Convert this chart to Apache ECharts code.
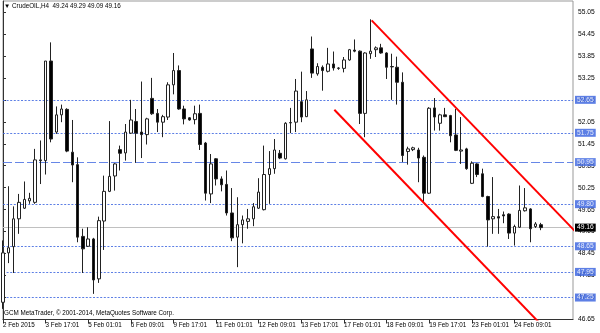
<!DOCTYPE html>
<html>
<head>
<meta charset="utf-8">
<script src="https://cdn.jsdelivr.net/npm/echarts/dist/echarts.min.js"></script>
<style>html,body{margin:0;padding:0;background:#fff}#c{width:600px;height:333px}</style>
</head>
<body>
<div id="c"></div>
<script>
// ---- data (CrudeOIL, H4) ----
const days = ['2 Feb','3 Feb','4 Feb','5 Feb','6 Feb','9 Feb','10 Feb','11 Feb','12 Feb','13 Feb','16 Feb','17 Feb','18 Feb','19 Feb','20 Feb','23 Feb','24 Feb','25 Feb','26 Feb'];
const hours = ['01:01','05:01','09:01','13:01','17:01','21:01'];
const xTickLabels = ['2 Feb 2015','3 Feb 17:01','5 Feb 01:01','6 Feb 09:01','9 Feb 17:01','11 Feb 01:01','12 Feb 09:01','13 Feb 17:01','17 Feb 01:01','18 Feb 09:01','19 Feb 17:01','23 Feb 01:01','24 Feb 09:01'];
const yTickLabels = [55.05,54.45,53.85,53.25,52.65,52.05,51.45,50.85,50.25,49.65,49.05,48.45,47.85,47.25,46.65];

const opens = [47.12,48.47,48.64,49.40,49.69,49.89,49.85,51.01,50.99,53.71,
  51.77,52.24,52.39,51.22,50.88,48.92,48.65,48.85,47.76,49.34,
  50.15,50.57,51.29,51.20,51.74,52.06,51.77,51.70,52.69,52.28,
  52.04,52.18,53.06,53.45,52.40,52.16,52.11,52.28,51.47,50.08,
  51.04,50.49,50.34,49.56,48.90,49.24,49.33,49.40,49.69,49.65,
  50.61,50.77,51.19,51.04,52.02,52.04,52.60,52.19,54.04,53.36,
  53.54,53.43,53.63,53.52,53.51,53.74,54.01,53.98,52.28,53.91,
  54.02,54.07,53.93,53.56,53.54,53.13,51.24,51.29,51.28,51.08,
  50.10,52.43,52.01,52.24,52.22,51.69,51.25,51.31,50.37,50.90,
  50.63,50.01,49.40,49.46,49.51,49.53,49.01,49.17,49.62,49.67,
  49.19,49.24];
const highs = [48.81,50.29,49.74,50.08,50.42,50.11,51.31,51.54,53.71,54.22,
  52.47,52.52,52.42,52.10,51.08,49.13,49.17,48.88,49.46,50.58,
  52.07,50.92,51.40,51.99,52.65,52.40,53.15,52.16,53.25,52.40,
  52.24,53.13,53.93,53.59,52.49,52.18,52.49,52.52,51.50,51.17,
  51.06,50.56,50.72,50.24,49.99,49.49,49.67,49.83,50.51,51.40,
  51.25,51.58,51.28,52.04,52.43,53.22,53.42,52.89,54.38,53.65,
  53.59,54.07,53.97,53.54,53.82,54.04,54.30,54.00,53.95,54.85,
  54.11,54.18,53.95,53.91,53.83,53.40,51.37,51.37,51.34,51.13,
  52.45,52.70,52.27,52.43,52.24,52.40,52.18,51.34,50.97,50.92,
  50.77,50.03,50.54,49.67,49.60,49.55,49.24,50.31,50.24,49.69,
  49.31,49.29];
const lows = [46.94,48.19,47.92,48.99,49.67,49.81,49.81,50.35,50.61,51.49,
  51.72,52.04,51.22,50.40,48.76,47.92,48.63,47.35,47.65,48.55,
  50.13,50.17,50.72,50.99,51.72,50.93,51.06,51.43,52.24,51.77,
  51.63,52.10,52.80,52.38,51.98,52.08,51.98,51.28,49.90,49.83,
  50.31,50.15,49.49,48.79,48.08,48.73,49.13,49.20,49.67,49.63,
  49.81,50.63,51.03,51.02,51.74,51.77,52.04,52.18,53.25,53.31,
  52.90,53.40,53.45,53.47,53.40,53.72,53.95,51.99,51.63,53.77,
  53.82,53.91,53.22,52.65,52.52,50.95,50.88,51.25,50.40,49.83,
  50.08,51.81,51.81,52.18,51.49,51.25,50.90,50.74,50.35,50.54,
  49.99,48.64,48.99,48.99,49.28,48.85,48.67,49.15,49.60,48.76,
  49.15,49.09];
const closes = [48.47,48.61,49.40,49.85,49.93,49.96,51.01,50.99,53.71,51.58,
  52.24,52.40,51.25,50.87,48.90,48.58,48.85,47.73,49.35,50.15,
  50.56,50.90,51.19,51.77,52.10,51.74,51.70,52.13,52.27,52.04,
  52.19,53.06,53.45,52.40,52.13,52.10,52.27,51.43,50.10,50.90,
  50.49,50.33,49.56,48.88,49.24,49.37,49.40,49.73,50.13,50.61,
  50.77,51.28,51.06,52.01,52.03,52.89,52.18,52.65,53.38,53.56,
  53.45,53.63,53.52,53.51,53.74,54.02,53.98,52.28,53.93,53.98,
  54.07,53.93,53.54,53.55,53.13,51.13,51.31,51.34,51.06,50.10,
  52.42,52.18,52.24,52.19,51.67,51.27,51.28,50.77,50.92,50.61,
  50.01,49.37,49.46,49.42,49.48,49.01,49.19,49.63,49.70,49.13,
  49.26,49.16];

const dottedLevels = [52.65, 51.75, 49.80, 48.65, 47.95, 47.25];
const dashedLevel = 50.95;
const bidLevel = 49.16;
// channel lines: [bar index, price]
const upperChannel = [[69.2, 54.82], [108, 48.97]];
const lowerChannel = [[62.2, 52.38], [102, 46.36]];

const totalSlots = 108;
const allTimes = [];
days.forEach(d => hours.forEach(h => allTimes.push(d + ' ' + h)));
const categories = allTimes.slice(2, 2 + totalSlots);
const candles = opens.map((o, i) => [o, closes[i], lows[i], highs[i]]);

const FONT = 'Liberation Sans';
const BLUE = '#4169E1';
const showTick = (idx) => idx % 8 === 0 && idx / 8 < xTickLabels.length;

const lvlLabel = (bg) => ({
  show: true, position: 'end', distance: 2,
  formatter: p => Number(p.value).toFixed(2),
  backgroundColor: bg, color: '#fff', padding: [1, 2, 0, 2],
  fontFamily: FONT, fontSize: 6.7
});

const markData = dottedLevels.map(v => ({
  yAxis: v,
  lineStyle: { color: BLUE, type: [2, 1.6], width: 1, opacity: 0.85 },
  label: lvlLabel(BLUE)
}));
markData.push({ yAxis: dashedLevel, lineStyle: { color: BLUE, type: [9, 3], width: 1, opacity: 0.8 }, label: lvlLabel(BLUE) });
markData.push({ yAxis: bidLevel, lineStyle: { color: '#c0c0c0', type: 'solid', width: 1 }, label: lvlLabel('#000') });

const chart = echarts.init(document.getElementById('c'), null, { renderer: 'canvas' });
chart.setOption({
  animation: false,
  backgroundColor: '#fff',
  title: [
    { text: '\u25BC CrudeOIL,H4  49.24 49.29 49.09 49.16', left: 4, top: 3, padding: 0,
      textStyle: { fontFamily: FONT, fontSize: 6.3, fontWeight: 'normal', color: '#000' } },
    { text: 'GCM MetaTrader, \u00A9 2001-2014, MetaQuotes Software Corp.', left: 4, top: 310, padding: 0,
      textStyle: { fontFamily: FONT, fontSize: 6.3, fontWeight: 'normal', color: '#000' } }
  ],
  grid: { left: 1, top: 1, width: 572, height: 318.5, show: true, borderColor: '#999', borderWidth: 1, containLabel: false },
  xAxis: [
    {
      type: 'category', data: categories, boundaryGap: false,
      axisLine: { show: true, lineStyle: { color: '#333', width: 1 } },
      axisTick: { show: true, inside: false, length: 4, interval: showTick, lineStyle: { color: '#333' } },
      axisLabel: { interval: showTick, align: 'left', margin: 3, color: '#000', fontFamily: FONT, fontSize: 6.3,
        formatter: (v, idx) => xTickLabels[idx / 8] },
      splitLine: { show: false }
    },
    { type: 'value', min: 0, max: totalSlots - 1, show: false }
  ],
  yAxis: {
    type: 'value', position: 'right', min: 46.65, max: 55.35, scale: true,
    axisLine: { show: true, lineStyle: { color: '#333', width: 1 } },
    axisTick: { show: true, inside: false, length: 3, customValues: yTickLabels, lineStyle: { color: '#333' } },
    axisLabel: { customValues: yTickLabels, margin: 5, color: '#000', fontFamily: FONT, fontSize: 6.7,
      formatter: v => Number(v).toFixed(2) },
    splitLine: { show: false }
  },
  series: [
    {
      type: 'candlestick', data: candles, barWidth: 3, xAxisIndex: 0,
      itemStyle: { color: '#fff', color0: '#000', borderColor: '#222', borderColor0: '#222', borderWidth: 1 },
      markLine: { silent: true, symbol: ['none', 'none'], animation: false, data: markData, z: 1 }
    },
    {
      type: 'line', xAxisIndex: 1, data: upperChannel, symbol: 'none', clip: true,
      lineStyle: { color: '#ff0000', width: 2 }, z: 5, silent: true
    },
    {
      type: 'line', xAxisIndex: 1, data: lowerChannel, symbol: 'none', clip: true,
      lineStyle: { color: '#ff0000', width: 2 }, z: 5, silent: true
    }
  ]
});
</script>
</body>
</html>
